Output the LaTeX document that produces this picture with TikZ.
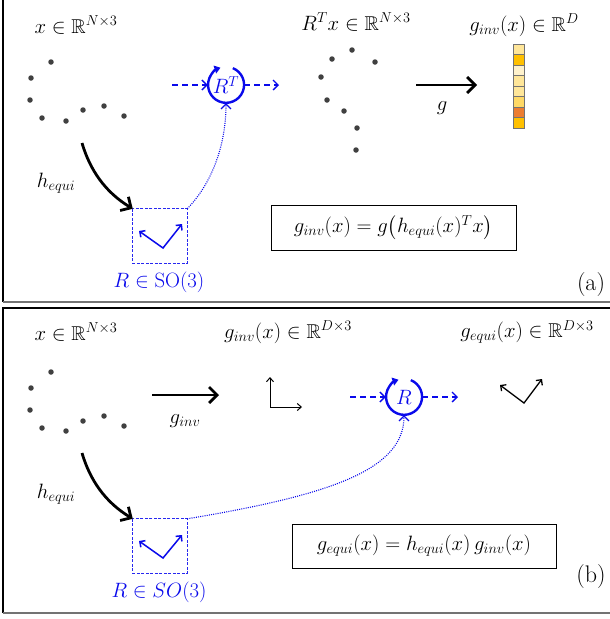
\documentclass[tikz,border=0pt]{standalone}
\usepackage{amsmath,amssymb}
\usetikzlibrary{arrows.meta,calc}
\definecolor{cA}{HTML}{FFE699}
\definecolor{cB}{HTML}{FFC000}
\definecolor{cC}{HTML}{FFF2CC}
\definecolor{cD}{HTML}{FFD966}
\definecolor{cE}{HTML}{ED7D31}
\definecolor{rotblue}{RGB}{10,10,235}
\definecolor{boxblue}{RGB}{40,40,240}
\begin{document}
\begin{tikzpicture}[x=1pt,y=-1pt,
  pt/.style={circle, fill=black!75, inner sep=0pt, minimum size=5.5pt},
  lbl/.style={font=\fontsize{20}{24}\selectfont, inner sep=0pt},
  panlbl/.style={font=\fontsize{24}{28}\selectfont, inner sep=0pt},
  bigarrow/.style={line width=2.8pt, -{Straight Barb[length=8pt,width=16pt]}},
  dasharrow/.style={rotblue, dash pattern=on 6pt off 4pt, line width=1.3pt, -{Straight Barb[length=5pt,width=10pt]}},
  dotarrow/.style={rotblue, dash pattern=on 1pt off 1.2pt, line width=1.1pt, -{Straight Barb[length=5pt,width=10pt]}},
  rotcirc/.style={circle, minimum size=36pt, inner sep=0pt, text=rotblue, font=\fontsize{20}{24}\selectfont},
  rotarc/.style={rotblue, line width=2.4pt, -{Triangle[length=6pt,width=8pt]}},
  sobox/.style={minimum width=54pt, minimum height=54pt, inner sep=0pt},
  soframe/.style={boxblue, dash pattern=on 3pt off 1.5pt, line width=1.1pt},
  vec/.style={line width=1.5pt, {Straight Barb[length=4pt,width=8pt]}-{Straight Barb[length=4pt,width=8pt]}},
  eqbox/.style={draw, line width=1pt, inner sep=0pt, font=\fontsize{20}{24}\selectfont},
  cell/.style={draw=black!55, line width=0.5pt, minimum width=11pt, minimum height=10.5pt, inner sep=0pt}
]
\useasboundingbox (0,0) rectangle (610,619);
% frames
\draw[line width=1.2pt] (3,0) -- (3,302);
\draw[black!55, line width=2pt] (3,302) -- (610,302);
\draw[line width=1.2pt] (3,613) -- (3,308) -- (610,308);
\draw[black!55, line width=2pt] (3,613) -- (610,613);

% ================= panel (a) =================
\node[lbl] (xa) at (76,25) {$x \in \mathbb{R}^{N\times 3}$};
\foreach \n/\p in {a1/{51,62},a2/{31,78},a3/{30,100},a4/{42,118},a5/{66,121},a6/{83,110},a7/{104,106},a8/{124,116}}
  \node[pt] (\n) at (\p) {};
\coordinate (hsa) at (82,143);
\node[sobox] (boxa) at (160,236) {};
\draw[soframe] (boxa.north west) rectangle (boxa.south east);
\draw[bigarrow] (hsa) .. controls (90,170) and (105,192) .. (boxa.north west);
\node[lbl] (ha) at (56,183) {$h_{equi}$};
\coordinate (va) at (163,248);
\coordinate (vla) at (139,231);
\coordinate (vra) at (182,224);
\draw[vec, rotblue] (vla) -- (va) -- (vra);
\node[lbl, text=rotblue] (soa) at (159,282) {$R \in \mathrm{SO}(3)$};

\node[rotcirc] (rta) at (226,85) {$R^T$};
\draw[rotarc] (rta.68) arc[start angle=-68, end angle=252, radius=18];
\coordinate (ina) at (172,85);
\coordinate (outa) at (279,85);
\draw[dasharrow] (ina) -- (rta.west);
\draw[dasharrow] (rta.east) -- (outa);
\draw[dotarrow] (boxa.north east) .. controls (215,180) and (226,140) .. (rta.south);

\node[lbl] (rtx) at (356,22) {$R^T x \in \mathbb{R}^{N\times 3}$};
\foreach \n/\p in {b1/{352,50},b2/{332,59},b3/{375,62},b4/{321,77},b5/{327,100},b6/{344,111},b7/{357,128},b8/{356,150}}
  \node[pt] (\n) at (\p) {};
\coordinate (gs) at (416,85);
\coordinate (ge) at (477,85);
\draw[bigarrow] (gs) -- (ge);
\node[lbl] (glbl) at (442,108) {$g$};

\node[lbl] (ginvD) at (524,25) {$g_{inv}(x) \in \mathbb{R}^{D}$};
\foreach \i/\c in {0/cA,1/cB,2/cC,3/cA,4/cA,5/cD,6/cE,7/cB}
  \node[cell, fill=\c] (cell\i) at (518.5,{49.25+10.5*\i}) {};

\node[eqbox, minimum width=245pt, minimum height=45pt] (eqa) at (393.5,227.5)
  {$g_{inv}(x) = g\bigl(h_{equi}(x)^T x\bigr)$};
\node[panlbl] (labA) at (591,285) {(a)};

% ================= panel (b) =================
\node[lbl] (xb) at (76,332) {$x \in \mathbb{R}^{N\times 3}$};
\foreach \n/\p in {c1/{51,372},c2/{31,388},c3/{30,410},c4/{42,428},c5/{66,431},c6/{83,421},c7/{104,416},c8/{124,426}}
  \node[pt] (\n) at (\p) {};
\coordinate (gis) at (152,395);
\coordinate (gie) at (219,395);
\draw[bigarrow] (gis) -- (gie);
\node[lbl] (ginvl) at (185,421) {$g_{inv}$};

\node[lbl] (ginvD3) at (288,332) {$g_{inv}(x) \in \mathbb{R}^{D\times 3}$};
\coordinate (ax0) at (270,407);
\coordinate (axu) at (270,377);
\coordinate (axr) at (302,407);
\draw[line width=1pt, {Straight Barb[length=4pt,width=7pt]}-{Straight Barb[length=4pt,width=7pt]}] (axu) -- (ax0) -- (axr);

\node[rotcirc] (rb) at (404,397) {$R$};
\draw[rotarc] (rb.68) arc[start angle=-68, end angle=252, radius=18];
\coordinate (inb) at (350,397);
\coordinate (outb) at (458,397);
\draw[dasharrow] (inb) -- (rb.west);
\draw[dasharrow] (rb.east) -- (outb);

\node[lbl] (gequiD3) at (527,332) {$g_{equi}(x) \in \mathbb{R}^{D\times 3}$};
\coordinate (vb) at (524,403);
\coordinate (vlb) at (500,385);
\coordinate (vrb) at (542,379);
\draw[vec, line width=1.3pt] (vlb) -- (vb) -- (vrb);

\coordinate (hsb) at (82,453);
\node[sobox] (boxb) at (160,546) {};
\draw[soframe] (boxb.north west) rectangle (boxb.south east);
\draw[bigarrow] (hsb) .. controls (90,480) and (105,502) .. (boxb.north west);
\node[lbl] (hb) at (56,494) {$h_{equi}$};
\coordinate (vbb) at (163,558);
\coordinate (vlbb) at (139,541);
\coordinate (vrbb) at (182,535);
\draw[vec, rotblue] (vlbb) -- (vbb) -- (vrbb);
\node[lbl, text=rotblue] (sob) at (159,592) {$R \in SO(3)$};
\draw[dotarrow] (boxb.north east) .. controls (330,495) and (404,470) .. (rb.south);

\node[eqbox, minimum width=264pt, minimum height=44pt] (eqb) at (424,546)
  {$g_{equi}(x) = h_{equi}(x)\, g_{inv}(x)$};
\node[panlbl] (labB) at (591,577) {(b)};
\end{tikzpicture}
\end{document}
